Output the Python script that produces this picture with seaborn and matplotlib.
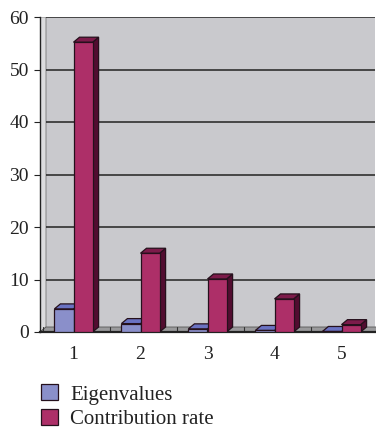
import matplotlib
matplotlib.use("Agg")
import matplotlib.pyplot as plt
import seaborn as sns
import pandas as pd
from matplotlib.patches import Polygon, Patch
from matplotlib.colors import to_hex

components = ["1", "2", "3", "4", "5"]
eigenvalues = [4.4, 1.6, 0.6, 0.3, 0.1]
contribution_rate = [55.2, 15.0, 10.1, 6.3, 1.4]
series_names = ["Eigenvalues", "Contribution rate"]
y_ticks = [0, 10, 20, 30, 40, 50, 60]

df = pd.DataFrame({
    "component": components * 2,
    "value": eigenvalues + contribution_rate,
    "series": [series_names[0]] * len(components) + [series_names[1]] * len(components),
})

sns.set_theme(style="white")
plt.rcParams["font.family"] = ["Liberation Serif", "DejaVu Serif"]

# front / top / side shades for the pseudo-3D columns
front = {series_names[0]: "#8a8fca", series_names[1]: "#ad2f68"}
top = {series_names[0]: "#6a72c2", series_names[1]: "#7c1b4a"}
side = {series_names[0]: "#4b5096", series_names[1]: "#520c30"}
edge = "#25101c"

W, H = 376, 429
fig = plt.figure(figsize=(W / 100, H / 100), dpi=100)
ax_l, ax_b, ax_w, ax_h = 40, 97, 335, 315
ax = fig.add_axes([ax_l / W, ax_b / H, ax_w / W, ax_h / H])

sns.barplot(data=df, x="component", y="value", hue="series", palette=front,
            width=0.57, gap=0, saturation=1, edgecolor=edge, linewidth=0.9,
            legend=False, ax=ax)

xmin, xmax = -0.5, len(components) - 0.5
ymin, ymax = 0, 60
ax.set_xlim(xmin, xmax)
ax.set_ylim(ymin, ymax)

# depth of the 3D effect in data units (6 px right, 5 px up)
dx = 6 / (ax_w / (xmax - xmin))
dy = 5 / (ax_h / (ymax - ymin))

ax.set_facecolor("#c9c9cd")

# left wall and floor
ax.add_patch(Polygon([(xmin, 0), (xmin + dx, dy), (xmin + dx, ymax), (xmin, ymax)],
                     closed=True, facecolor="#dcdcde", edgecolor="#777777",
                     linewidth=0.6, zorder=0.5))
ax.add_patch(Polygon([(xmin, 0), (xmax, 0), (xmax + dx, dy), (xmin + dx, dy)],
                     closed=True, facecolor="#9a9a9c", edgecolor="#555555",
                     linewidth=0.6, zorder=0.8, clip_on=False))
for k in range(len(components)):
    xs = xmin + k
    ax.plot([xs + dx * 0.5, xs + dx * 0.5], [0, dy], color="#333333", lw=0.8, zorder=0.9)

# gridlines on the back wall
ax.hlines(y_ticks[1:], xmin + dx, xmax, colors="#222222", linewidth=1.1, zorder=0.6)

# 3D faces for each column
color_to_series = {to_hex(front[s]): s for s in series_names}
for p in list(ax.patches):
    if not hasattr(p, "get_x") or p.get_width() == 0:
        continue
    try:
        s = color_to_series[to_hex(p.get_facecolor())]
    except KeyError:
        continue
    z = 3 if s == series_names[0] else 4
    x0, w, h = p.get_x(), p.get_width(), p.get_height()
    x1 = x0 + w
    p.set_zorder(z + 0.2)
    ax.add_patch(Polygon([(x1, 0), (x1 + dx, dy), (x1 + dx, h + dy), (x1, h)],
                         closed=True, facecolor=side[s], edgecolor=edge,
                         linewidth=0.9, zorder=z))
    ax.add_patch(Polygon([(x0, h), (x1, h), (x1 + dx, h + dy), (x0 + dx, h + dy)],
                         closed=True, facecolor=top[s], edgecolor=edge,
                         linewidth=0.9, zorder=z + 0.1))

ax.set_yticks(y_ticks)
ax.set_xlabel("")
ax.set_ylabel("")
for sp in ["top", "right"]:
    ax.spines[sp].set_visible(False)
ax.spines["left"].set_color("#222222")
ax.spines["left"].set_linewidth(1.0)
ax.spines["bottom"].set_color("#222222")
ax.spines["bottom"].set_linewidth(1.6)
ax.tick_params(axis="y", left=True, length=4, width=0.8, color="#222222",
               pad=4, labelsize=14, labelcolor="#222222")
ax.tick_params(axis="x", bottom=False, pad=4, labelsize=14, labelcolor="#222222")

handles = [Patch(facecolor=front[s], edgecolor=edge, linewidth=0.9) for s in series_names]
fig.legend(handles, series_names, loc="upper left",
           bbox_to_anchor=(33 / W, 1 - 376 / H), frameon=False,
           fontsize=15, handlelength=0.8, handleheight=0.8,
           handletextpad=0.6, labelspacing=0.22, borderaxespad=0,
           labelcolor="#222222")

fig.savefig("out.png", dpi=100, facecolor="white")
